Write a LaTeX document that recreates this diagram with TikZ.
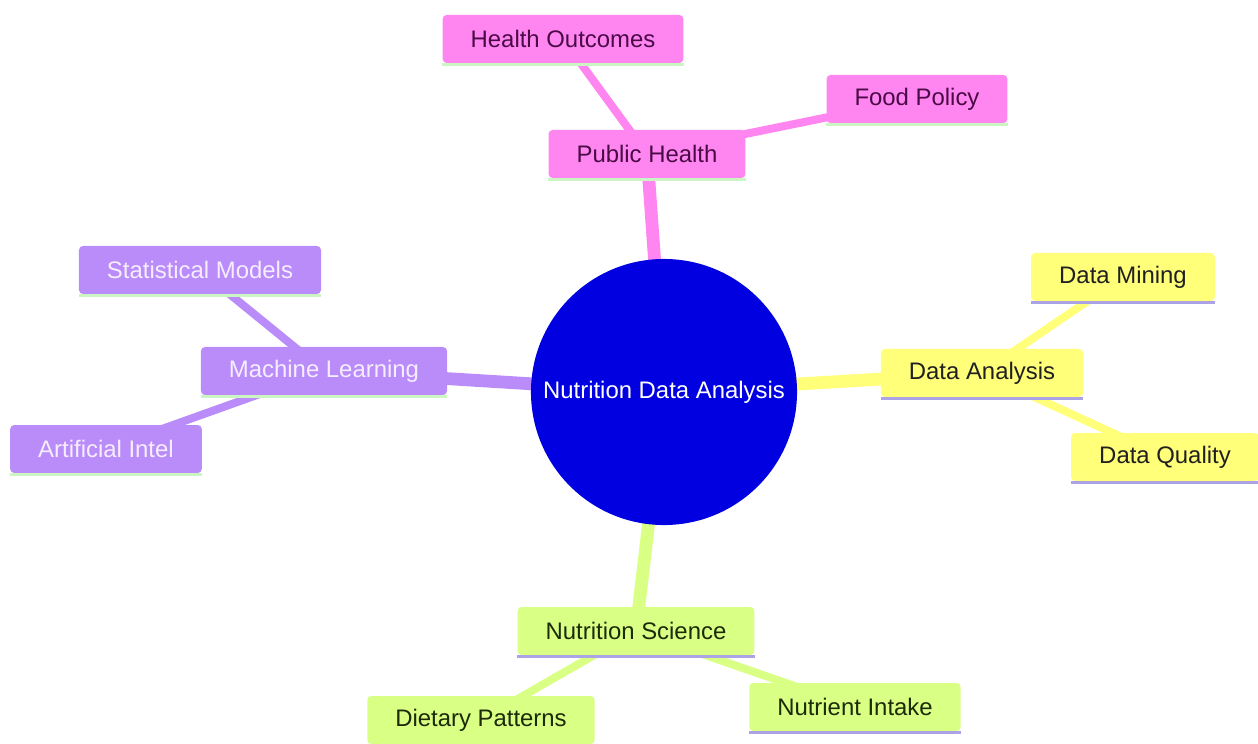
\documentclass[tikz,border=0pt]{standalone}
\usepackage{fontspec}
\setmainfont{Liberation Sans}
\usetikzlibrary{backgrounds}

\definecolor{pinkfill}{HTML}{FF85F0}
\definecolor{pinktext}{HTML}{4A0A46}
\definecolor{purplefill}{HTML}{BA8CFA}
\definecolor{purpletext}{HTML}{F6EEFF}
\definecolor{yellowfill}{HTML}{FFFF7A}
\definecolor{yellowtext}{HTML}{202020}
\definecolor{greenfill}{HTML}{D9FF85}
\definecolor{greentext}{HTML}{1C2A08}
\definecolor{greenline}{HTML}{CCF5C4}
\definecolor{lavline}{HTML}{ABA3E6}
\definecolor{rootblue}{HTML}{0000E0}

\begin{document}
\begin{tikzpicture}
  [
    x=0.025cm, y=-0.025cm,
    every node/.style={font=\fontsize{17}{20}\selectfont},
    box/.style = {rectangle, rounded corners=0.1cm, inner xsep=0.7cm, inner ysep=0pt, minimum height=1.2cm},
    underline/.style = {append after command={([yshift=-0.03cm]\tikzlastnode.south west) edge[draw=#1, line width=0.09cm] ([yshift=-0.03cm]\tikzlastnode.south east)}},
    ph/.style = {box, fill=pinkfill, text=pinktext, underline=greenline},
    ml/.style = {box, fill=purplefill, text=purpletext, underline=greenline},
    da/.style = {box, fill=yellowfill, text=yellowtext, underline=lavline},
    ns/.style = {box, fill=greenfill, text=greentext, underline=lavline},
    main/.style = {line width=0.32cm},
    sub/.style  = {line width=0.2cm},
  ]

  \useasboundingbox (0,0) rectangle (1258,744);

  % the root
  \node (root) at (664,392) [circle, fill=rootblue, text=white, minimum size=6.65cm, inner sep=0pt] {Nutrition Data Analysis};

  % public health
  \node (public) at (647,154) [ph] {Public Health};
  \node (outcomes) at (563,39) [ph] {Health Outcomes};
  \node (policy) at (917,99) [ph] {Food Policy};

  % machine learning
  \node (learning) at (324,371) [ml] {Machine Learning};
  \node (models) at (200,270) [ml] {Statistical Models};
  \node (intel) at (106,449) [ml] {Artificial Intel};

  % data analysis
  \node (analysis) at (982,373) [da] {Data Analysis};
  \node (mining) at (1123,277) [da] {Data Mining};
  \node (quality) at (1165,457) [da] {Data Quality};

  % nutrition science
  \node (science) at (636,631) [ns] {Nutrition Science};
  \node (patterns) at (481,720) [ns] {Dietary Patterns};
  \node (intake) at (855,707) [ns] {Nutrient Intake};

  \begin{pgfonlayer}{background}
    \draw[main, pinkfill] (root.center) -- (public.center);
    \draw[sub, pinkfill] (public.center) -- (outcomes.center);
    \draw[sub, pinkfill] (public.center) -- (policy.center);

    \draw[main, purplefill] (root.center) -- (learning.center);
    \draw[sub, purplefill] (learning.center) -- (models.center);
    \draw[sub, purplefill] (learning.center) -- (intel.center);

    \draw[main, yellowfill] (root.center) -- (analysis.center);
    \draw[sub, yellowfill] (analysis.center) -- (mining.center);
    \draw[sub, yellowfill] (analysis.center) -- (quality.center);

    \draw[main, greenfill] (root.center) -- (science.center);
    \draw[sub, greenfill] (science.center) -- (patterns.center);
    \draw[sub, greenfill] (science.center) -- (intake.center);
  \end{pgfonlayer}

\end{tikzpicture}
\end{document}
